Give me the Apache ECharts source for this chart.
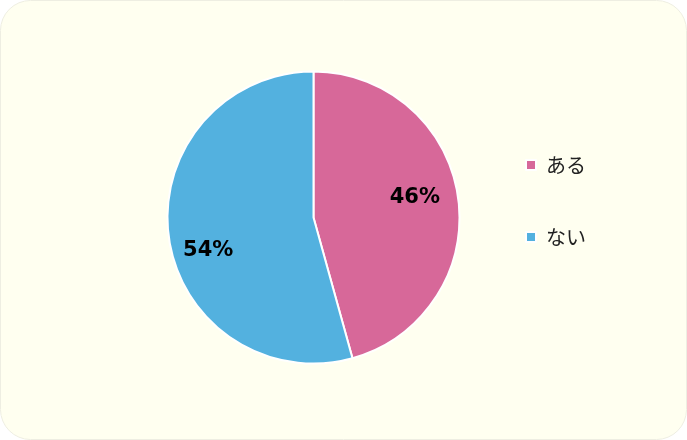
<!DOCTYPE html>
<html><head><meta charset="utf-8">
<script src="https://cdn.jsdelivr.net/npm/echarts@6/dist/echarts.min.js"></script>
<style>html,body{margin:0;padding:0;background:#fff;}#c{width:687px;height:440px;}</style>
</head><body><div id="c"></div>
<script>
const categories = ['ある', 'ない'];
const values = [45.7, 54.3];
const colors = ['#D76899', '#53B1DF'];
const labelOffsets = [[26, -10], [-30, 23]];

const chart = echarts.init(document.getElementById('c'), null, {renderer: 'canvas'});
chart.setOption({
  animation: false,
  graphic: [{
    type: 'rect', z: -10,
    shape: {x: 0.5, y: 0.5, width: 686, height: 439, r: 30},
    style: {fill: '#FFFFF0', stroke: '#EEEEE2', lineWidth: 1}
  }],
  legend: {
    orient: 'vertical', left: 520, top: 150,
    itemWidth: 10, itemHeight: 10, itemGap: 52,
    icon: 'rect',
    itemStyle: {borderColor: '#fff', borderWidth: 2},
    textStyle: {fontFamily: 'Noto Sans CJK JP', fontSize: 20, color: '#222', padding: [0,0,0,5]},
    data: categories
  },
  series: [{
    type: 'pie',
    center: [313.5, 217.5], radius: 146,
    startAngle: 90, clockwise: true,
    itemStyle: {borderColor: '#fff', borderWidth: 2},
    label: {
      show: true, position: 'inside',
      formatter: p => Math.round(p.value) + '%',
      fontFamily: 'DejaVu Sans', fontWeight: 'bold', fontSize: 21, color: '#000'
    },
    labelLine: {show: false},
    emphasis: {disabled: true},
    data: categories.map((n, i) => ({name: n, value: values[i], itemStyle: {color: colors[i]}, label: {offset: labelOffsets[i]}}))
  }]
});
</script></body></html>
